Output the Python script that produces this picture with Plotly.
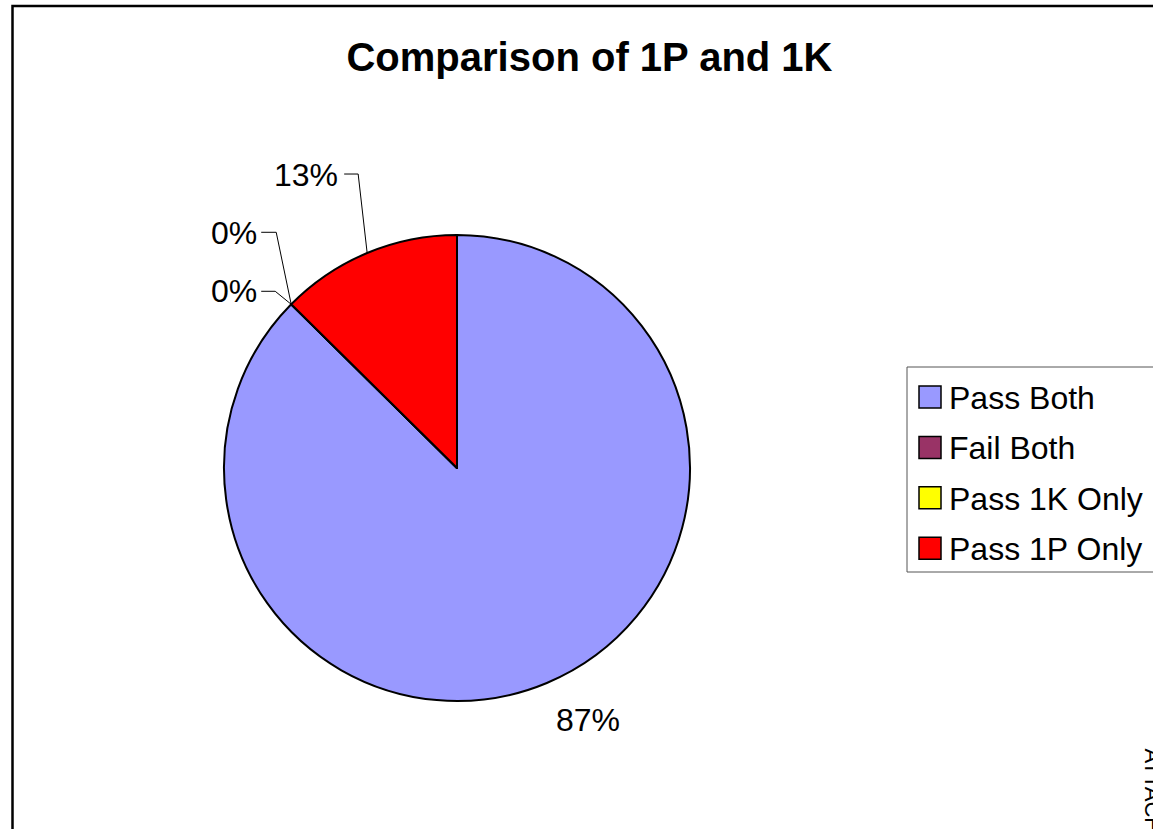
import math
import plotly.graph_objects as go

# ---- data ----
categories = ["Pass Both", "Fail Both", "Pass 1K Only", "Pass 1P Only"]
values = [87.4, 0.0, 0.0, 12.6]
colors = ["#9999FF", "#993366", "#FFFF00", "#FF0000"]
title_text = "Comparison of 1P and 1K"
side_text = "ATTACHMENT"

# ---- layout constants (window pixels) ----
W, H = 1153, 829
CX, CY, R = 457, 468, 233
FONT = "Arial, Liberation Sans, sans-serif"


def fx(x):
    return x / W


def fy(y):
    return 1 - y / H


fig = go.Figure()
fig.add_trace(go.Pie(
    labels=categories,
    values=values,
    marker=dict(colors=colors, line=dict(color="black", width=2)),
    sort=False,
    direction="clockwise",
    rotation=0,
    textinfo="none",
    hoverinfo="label+percent",
    showlegend=False,
    domain=dict(x=[fx(CX - R), fx(CX + R)], y=[fy(CY + R), fy(CY - R)]),
))

# angles of slices (from 12 o'clock, clockwise)
total = sum(values)
mids = []
acc = 0.0
for v in values:
    mids.append((acc + v / 2) / total * 360)
    acc += v


def edge_point(theta):
    t = math.radians(theta)
    return CX + R * math.sin(t), CY - R * math.cos(t)


# label placement styles relative to the slice's edge point
label_style = {
    "Pass Both": dict(text=(41, 37), anchor="center", elbow=None),
    "Fail Both": dict(text=(-32, -71), anchor="right", elbow=(-15, -72, -30)),
    "Pass 1K Only": dict(text=(-32, -13), anchor="right", elbow=(-16, -13, -30)),
    "Pass 1P Only": dict(text=(-27, -78), anchor="right", elbow=(-9, -79, -23)),
}

shapes = []
annotations = []
for cat, v, m in zip(categories, values, mids):
    ax_, ay_ = edge_point(m)
    st = label_style[cat]
    pct = f"{round(v / total * 100)}%"
    tx, ty = ax_ + st["text"][0], ay_ + st["text"][1]
    annotations.append(dict(
        x=fx(tx), y=fy(ty), xref="paper", yref="paper", text=pct,
        showarrow=False, xanchor=st["anchor"], yanchor="middle",
        font=dict(family=FONT, size=32, color="black"),
    ))
    if st["elbow"]:
        ex, ey, hx = st["elbow"]
        p0 = (ax_, ay_)
        p1 = (ax_ + ex, ay_ + ey)
        p2 = (ax_ + hx, ay_ + ey)
        path = (f"M {fx(p0[0])},{fy(p0[1])} L {fx(p1[0])},{fy(p1[1])} "
                f"L {fx(p2[0])},{fy(p2[1])}")
        shapes.append(dict(type="path", path=path, xref="paper", yref="paper",
                           line=dict(color="black", width=1)))

# chart frame
shapes.append(dict(type="rect", xref="paper", yref="paper",
                   x0=fx(12.5), y0=fy(6), x1=fx(1200), y1=fy(900),
                   line=dict(color="black", width=2.5), layer="below"))

# legend (drawn manually)
LEG_X0, LEG_Y0, LEG_Y1 = 907, 367, 572
shapes.append(dict(type="rect", xref="paper", yref="paper",
                   x0=fx(LEG_X0), y0=fy(LEG_Y0), x1=fx(1220), y1=fy(LEG_Y1),
                   line=dict(color="#555555", width=1), fillcolor="white"))
row0, row_gap = 397, 50.4
for i, (cat, col) in enumerate(zip(categories, colors)):
    yc = row0 + i * row_gap
    shapes.append(dict(type="rect", xref="paper", yref="paper",
                       x0=fx(919), x1=fx(941), y0=fy(yc - 11), y1=fy(yc + 11),
                       fillcolor=col, line=dict(color="black", width=1.5)))
    annotations.append(dict(
        x=fx(947), y=fy(yc + 1), xref="paper", yref="paper", text=cat,
        showarrow=False, xanchor="left", yanchor="middle",
        font=dict(family=FONT, size=32, color="black"),
    ))

# rotated side text (cut off at the right edge)
annotations.append(dict(
    x=fx(1152), y=fy(746), xref="paper", yref="paper", text=side_text,
    showarrow=False, xanchor="center", yanchor="top", textangle=90,
    font=dict(family=FONT, size=22, color="black"),
))

fig.update_layout(
    width=W, height=H,
    margin=dict(l=0, r=0, t=0, b=0),
    paper_bgcolor="white",
    plot_bgcolor="white",
    title=dict(text=f"<b>{title_text}</b>", x=fx(589.5), xanchor="center",
               y=fy(57), yanchor="middle", yref="container",
               font=dict(family=FONT, size=40, color="black")),
    shapes=shapes,
    annotations=annotations,
)

fig.write_html(
    "out.html",
    config={"displayModeBar": False},
    post_script="document.body.style.margin='0';"
                "document.body.style.overflow='hidden';",
)
